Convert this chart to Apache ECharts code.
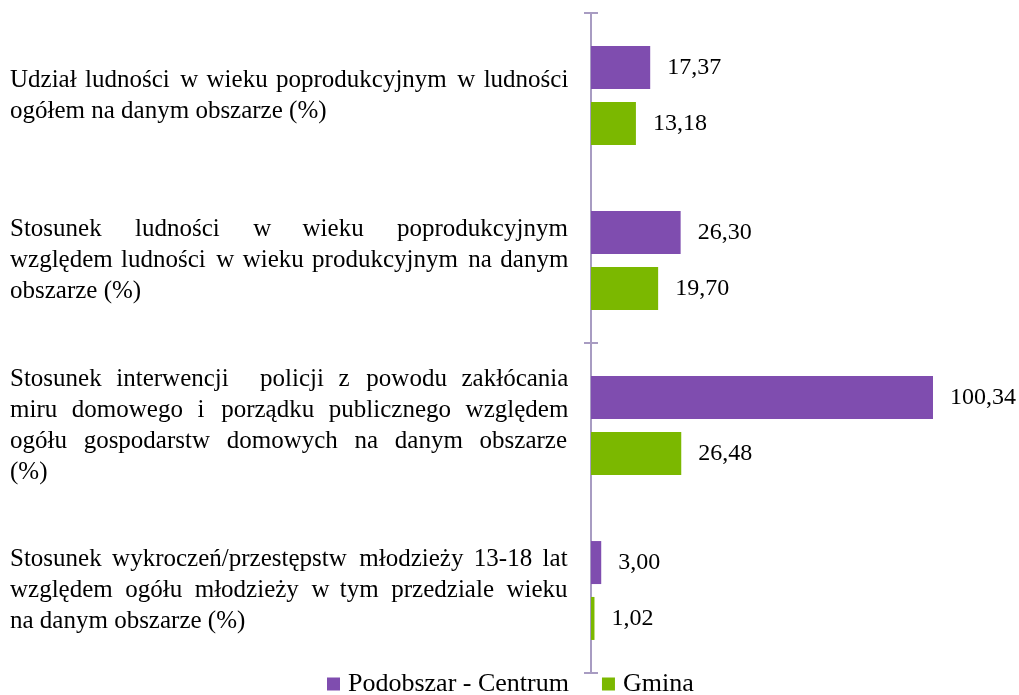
<!DOCTYPE html>
<html>
<head>
<meta charset="utf-8">
<script src="https://cdn.jsdelivr.net/npm/echarts@6/dist/echarts.min.js"></script>
<style>
  html, body { margin: 0; padding: 0; background: #fff; }
  #chart { width: 1019px; height: 695px; }
</style>
</head>
<body>
<div id="chart"></div>
<script>
// kategorie (linie jak w oryginale)
var categories = [
    'Udział ludności w wieku poprodukcyjnym w ludności\nogółem na danym obszarze (%)',
    'Stosunek ludności w wieku poprodukcyjnym\nwzględem ludności w wieku produkcyjnym na danym\nobszarze (%)',
    'Stosunek interwencji  policji z powodu zakłócania\nmiru domowego i porządku publicznego względem\nogółu gospodarstw domowych na danym obszarze\n(%)',
    'Stosunek wykroczeń/przestępstw młodzieży 13-18 lat\nwzględem ogółu młodzieży w tym przedziale wieku\nna danym obszarze (%)'
];
var seriesNames = ['Podobszar - Centrum', 'Gmina'];
var centrumValues = [17.37, 26.30, 100.34, 3.00];
var gminaValues = [13.18, 19.70, 26.48, 1.02];

var FONT_FAMILY = 'Garamond, "Liberation Serif", serif';
var LABEL_SIZE = 25;
var VALUE_SIZE = 24;
var LEGEND_SIZE = 26;
var LABEL_WIDTH = 558;
var AXIS_COLOR = '#A89CC2';

var ctx = document.createElement('canvas').getContext('2d');
ctx.font = LABEL_SIZE + 'px ' + FONT_FAMILY;

// wyjustowanie linii (jak w Wordzie) - dopychamy spacje
function justifyLine(line, width) {
    var words = line.split(' ');
    if (words.length < 2) return line;
    var wordsW = 0;
    words.forEach(function (w) { wordsW += ctx.measureText(w).width; });
    var fill = '\u200A';
    var fillW = ctx.measureText(fill).width;
    if (fillW < 0.5) { fill = '\u2009'; fillW = ctx.measureText(fill).width; }
    var free = width - wordsW;
    var gaps = words.length - 1;
    var out = words[0];
    var acc = 0;
    for (var i = 1; i < words.length; i++) {
        var target = free * i / gaps;
        var n = Math.max(1, Math.round((target - acc) / fillW));
        acc += n * fillW;
        out += new Array(n + 1).join(fill) + words[i];
    }
    return out;
}

function justify(text) {
    var lines = text.split('\n');
    return lines.map(function (l, i) {
        return i < lines.length - 1 ? justifyLine(l, LABEL_WIDTH) : l;
    }).join('\n');
}

function fmt(v) {
    return v.toFixed(2).replace('.', ',');
}

var myChart = echarts.init(document.getElementById('chart'));
var option = {
    backgroundColor: '#fff',
    animation: false,
    color: ['#7F4DAF', '#7BB800'],
    textStyle: { fontFamily: FONT_FAMILY },
    legend: {
        data: seriesNames,
        left: 327,
        top: 671,
        padding: 0,
        itemWidth: 13,
        itemHeight: 13,
        itemGap: 33,
        icon: 'rect',
        textStyle: { fontSize: LEGEND_SIZE, color: '#000', fontFamily: FONT_FAMILY, padding: [0, 0, 0, 3] }
    },
    grid: {
        left: 591,
        right: 19,
        top: 13,
        bottom: 22
    },
    xAxis: {
        type: 'value',
        min: 0,
        max: 120,
        show: false
    },
    yAxis: [{
        type: 'category',
        inverse: true,
        data: categories,
        axisLine: { show: true, lineStyle: { color: AXIS_COLOR, width: 2 } },
        axisTick: { show: false },
        axisLabel: {
            interval: 0,
            align: 'left',
            margin: 581,
            color: '#000',
            fontSize: LABEL_SIZE,
            lineHeight: 31,
            fontFamily: FONT_FAMILY,
            formatter: function (value) {
                return justify(value);
            }
        }
    }, {
        // kreski podziałki na zewnątrz (co druga granica kategorii)
        type: 'value',
        position: 'left',
        min: 0,
        max: 4,
        interval: 2,
        axisLine: { show: false },
        splitLine: { show: false },
        axisLabel: { show: false },
        axisTick: { show: true, length: 7, lineStyle: { color: AXIS_COLOR, width: 2 } }
    }, {
        // i do środka
        type: 'value',
        position: 'left',
        min: 0,
        max: 4,
        interval: 2,
        axisLine: { show: false },
        splitLine: { show: false },
        axisLabel: { show: false },
        axisTick: { show: true, inside: true, length: 7, lineStyle: { color: AXIS_COLOR, width: 2 } }
    }],
    series: [{
        name: seriesNames[0],
        type: 'bar',
        barWidth: 43,
        barGap: '30%',
        label: {
            show: true,
            position: 'right',
            distance: 17,
            color: '#000',
            fontSize: VALUE_SIZE,
            fontFamily: FONT_FAMILY,
            formatter: function (p) { return fmt(p.value); }
        },
        data: centrumValues
    }, {
        name: seriesNames[1],
        type: 'bar',
        barWidth: 43,
        barGap: '30%',
        label: {
            show: true,
            position: 'right',
            distance: 17,
            color: '#000',
            fontSize: VALUE_SIZE,
            fontFamily: FONT_FAMILY,
            formatter: function (p) { return fmt(p.value); }
        },
        data: gminaValues
    }]
};
myChart.setOption(option);
</script>
</body>
</html>
